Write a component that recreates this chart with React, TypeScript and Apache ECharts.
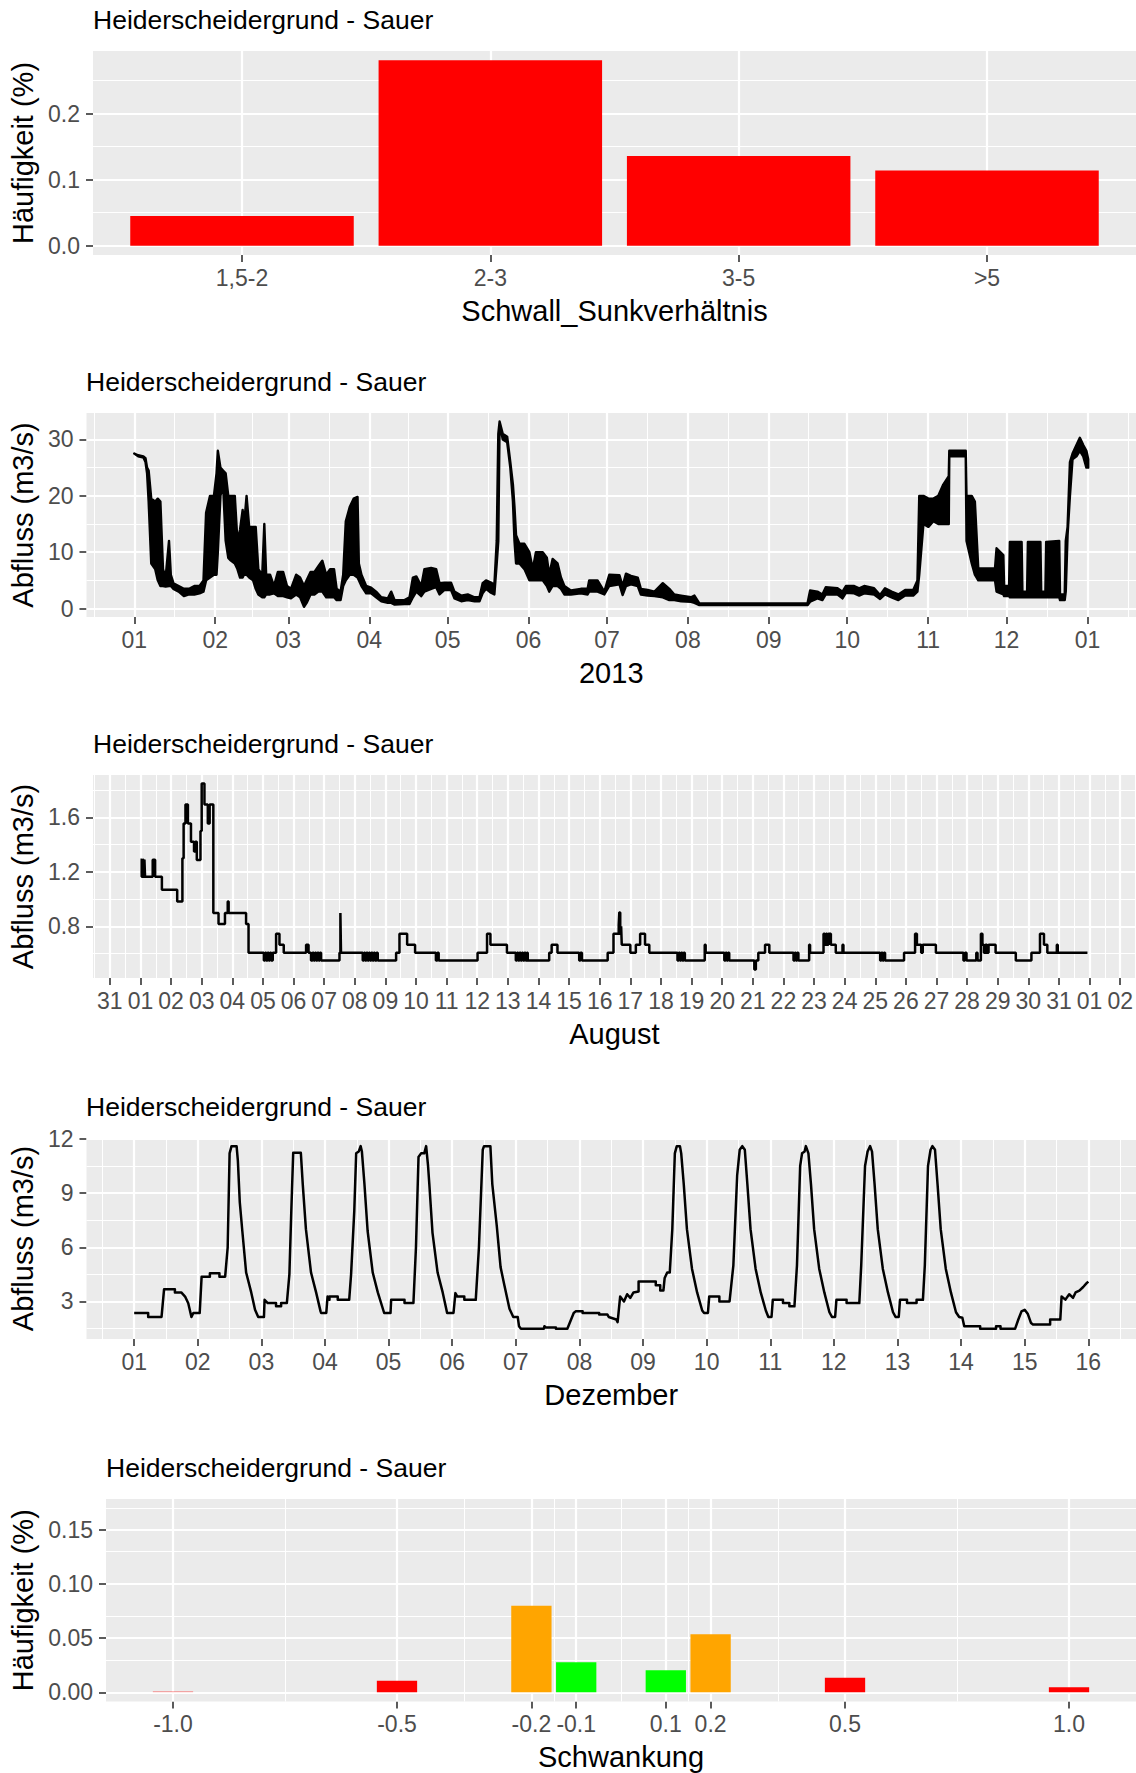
import React, { useEffect, useRef } from 'react';
import * as echarts from 'echarts';

const TITLE = 'Heiderscheidergrund - Sauer';
const FONT = '"Liberation Sans", Arial, Helvetica, sans-serif';

// ---------- Panel 1: Schwall/Sunk ratio ----------
const ratioCategories = ['1,5-2', '2-3', '3-5', '>5'];
const ratioFrequency = [0.045, 0.281, 0.136, 0.114];
const ratioYTicks = [0, 0.1, 0.2];

// ---------- Panel 2: discharge 2013 (day of year, low envelope, high envelope) ----------
const monthStartDays = [0, 31, 59, 90, 120, 151, 181, 212, 243, 273, 304, 334, 365];
const monthTickLabels = ['01', '02', '03', '04', '05', '06', '07', '08', '09', '10', '11', '12', '01'];
const yearYTicks = [0, 10, 20, 30];
const discharge2013: [number, number, number][] = [
  [0, 27.5, 27.5], [1.5, 27, 27.2], [3.5, 26.8, 27], [4.3, 26, 26.7], [4.9, 24, 25], [5.5, 19, 24.5],
  [6.5, 8, 19.5], [8, 7, 19], [9, 5, 19.5], [10, 4, 19], [11, 4, 7], [12, 3.9, 5.5], [13.3, 4, 12],
  [14, 4, 6], [15, 3.5, 4.5], [17, 3, 4], [19, 2.2, 3.5], [21, 2.5, 3.5], [23, 2.5, 4], [25, 2.7, 4],
  [26.5, 3, 5], [27.5, 5, 17], [29, 5.5, 20], [30.5, 6, 20], [31.5, 6, 24], [32, 10, 28], [33, 20, 25],
  [34, 22, 24.5], [35, 12, 24], [36, 9, 20], [37, 8.5, 20], [38.5, 8, 20], [39.5, 7, 12], [40.5, 5.5, 14],
  [41.5, 5.5, 17.5], [42, 6, 14.5], [43, 6, 20], [44, 5.5, 14.5], [45.5, 5, 14.5], [46.5, 3.5, 14.5],
  [47.5, 2.5, 7], [49, 2, 6], [49.8, 2, 15], [50.5, 2.5, 6], [52, 2.5, 6], [53.5, 2.7, 4], [55, 2.2, 6.5],
  [57, 2.2, 6.5], [58.5, 2, 4], [60, 1.8, 3.5], [62, 2.5, 6], [63.5, 2, 5.5], [65, 0.3, 4], [66, 1, 5],
  [67.5, 2.5, 6.5], [69, 2.5, 6.5], [70.5, 3, 7.5], [72, 3, 8.5], [73.5, 2, 6], [75, 2, 7], [76.5, 2, 7],
  [77.5, 1.5, 3.5], [79, 1.5, 3], [80, 4, 6], [81, 5, 15.5], [82.5, 6, 18], [84, 6, 19.5], [85.5, 5.5, 19.8],
  [86, 5, 8], [87, 4, 6], [88.8, 2.7, 4], [90.7, 2.7, 3.7], [92.6, 2, 3], [94.6, 1.3, 2], [97.1, 1, 1.8],
  [98.4, 1, 3], [99.7, 0.7, 1.5], [103.5, 0.8, 1.5], [105.4, 0.8, 2], [106.7, 2, 5.5], [108, 3, 5.7],
  [109.9, 2.2, 4], [111.1, 3, 7], [113.7, 3.5, 7.2], [115.6, 3.8, 7], [116.9, 2.5, 4.5], [118.8, 3.3, 4.6],
  [121.3, 3.3, 4.6], [122.6, 1.8, 3], [125.2, 1.3, 2.3], [127.7, 1.5, 2.5], [130.3, 1.3, 2], [132.2, 1.3, 2],
  [133.4, 2.7, 4.5], [134.7, 3.5, 5], [136.6, 2.8, 4.6], [137.9, 2.5, 4.2], [138.8, 8, 12], [139.4, 12, 31],
  [139.9, 33, 33.2], [141.1, 30, 31], [142.8, 29.5, 30.5], [144, 25, 26], [145, 19, 22], [145.6, 12, 18],
  [146.2, 8, 13], [147.5, 8, 11.5], [149.4, 7, 11.5], [151.3, 5, 10], [152.6, 5, 7], [153.8, 5, 10],
  [156.4, 5, 10], [158, 4, 9], [158.9, 3, 6], [160.2, 4, 8.8], [162.1, 4, 8], [163.4, 3.5, 5.5],
  [164.7, 2.5, 4], [167.2, 2.5, 3.2], [171, 2.7, 3.5], [173.6, 2.5, 3.5], [174.2, 3, 5], [177.4, 3, 5],
  [180, 2.5, 3], [181.9, 4, 6], [185.8, 4.3, 5.9], [187, 2.4, 4], [188.3, 4, 6.2], [190.2, 4.3, 5.8],
  [192.8, 4, 5.5], [194, 2.5, 3.5], [196.6, 2.3, 3.3], [199.2, 2.2, 3], [202.4, 2, 4.5], [204.9, 1.5, 3.5],
  [206.8, 1.5, 2.5], [209.4, 1.3, 2.3], [213.2, 1.2, 2], [214.5, 1, 2.3], [216.4, 0.6, 0.9], [257.8, 0.6, 0.9],
  [258.8, 1.2, 3.2], [261.6, 1.8, 3], [263.5, 1.5, 2.5], [264.8, 2.5, 3.8], [269.3, 2.5, 3.6], [271.2, 1.8, 3],
  [272.5, 2.8, 4], [275.7, 2.7, 4], [277.6, 2.3, 3.6], [279.5, 2.7, 4], [283.3, 2.5, 3.6], [285.6, 1.7, 2.4],
  [287.5, 2.5, 3.6], [290, 2, 3], [292.6, 1.5, 2.5], [295.2, 2.3, 3.3], [298.3, 2.3, 3.3], [299.9, 3, 5],
  [300.6, 6, 20], [302.2, 15, 20], [304.1, 14.5, 19.5], [306, 15.5, 19.5], [307.9, 15, 20], [309.8, 15, 22],
  [311.9, 15, 23.5], [312.1, 27, 28], [318.4, 27, 28], [318.7, 12, 20], [320.7, 8, 20], [321.9, 6, 19],
  [323.2, 5, 7.1], [329.6, 5, 7.1], [330.2, 3, 10.7], [332.8, 2.5, 9.5], [333.1, 2.2, 4], [335.0, 2.2, 4],
  [335.3, 2, 11.8], [339.8, 2, 11.8], [340.1, 2, 3], [341.9, 2, 3], [342.2, 2, 11.8], [347, 2, 11.8],
  [347.3, 2, 3], [348.9, 2, 3], [349.2, 2, 11.8], [354.2, 2, 12], [354.5, 1.5, 2.5], [356.3, 1.5, 2.5],
  [356.7, 3, 12], [357.4, 13, 14.5], [358.3, 20, 26], [359.3, 26.5, 27.5], [360.8, 27, 29], [362.1, 28, 30.3],
  [363.4, 27, 29], [364.6, 25, 28], [365.3, 25, 26.5],
];

// ---------- Panel 3: August (days since 1 Aug, value held until next point) ----------
const augustTickDays = [-1, 0, 1, 2, 3, 4, 5, 6, 7, 8, 9, 10, 11, 12, 13, 14, 15, 16, 17, 18, 19, 20, 21, 22, 23, 24, 25, 26, 27, 28, 29, 30, 31, 32];
const augustTickLabels = ['31', '01', '02', '03', '04', '05', '06', '07', '08', '09', '10', '11', '12', '13', '14', '15', '16', '17', '18', '19', '20', '21', '22', '23', '24', '25', '26', '27', '28', '29', '30', '31', '01', '02'];
const augustYTicks = [0.8, 1.2, 1.6];
const augustFlow: [number, number][] = [
  [0, 1.29], [0.04, 1.165], [0.07, 1.29], [0.1, 1.165], [0.13, 1.29], [0.15, 1.165], [0.4, 1.29], [0.48, 1.165],
  [0.7, 1.068], [1.2, 0.983], [1.37, 1.3], [1.41, 1.556], [1.47, 1.695], [1.55, 1.556], [1.65, 1.421], [1.75, 1.35],
  [1.79, 1.421], [1.84, 1.288], [1.96, 1.5], [2.0, 1.849], [2.09, 1.695], [2.2, 1.556], [2.26, 1.695], [2.38, 0.898],
  [2.55, 0.817], [2.76, 0.898], [2.85, 0.983], [2.88, 0.898], [3.45, 0.817], [3.53, 0.605],
  [4.03, 0.549], [4.07, 0.605], [4.11, 0.549], [4.15, 0.605], [4.19, 0.549], [4.23, 0.605], [4.27, 0.549], [4.32, 0.605],
  [4.43, 0.745], [4.54, 0.665], [4.68, 0.605], [5.41, 0.665], [5.49, 0.605], [5.57, 0.549], [5.62, 0.605], [5.66, 0.549],
  [5.7, 0.605], [5.74, 0.549], [5.78, 0.605], [5.82, 0.549], [5.86, 0.605], [5.9, 0.549], [6.5, 0.605], [6.53, 0.898],
  [6.55, 0.605], [7.26, 0.549], [7.3, 0.605], [7.34, 0.549], [7.38, 0.605], [7.42, 0.549], [7.46, 0.605], [7.5, 0.549],
  [7.54, 0.605], [7.58, 0.549], [7.62, 0.605], [7.66, 0.549], [7.71, 0.605], [7.75, 0.549], [8.35, 0.605], [8.46, 0.745],
  [8.71, 0.665], [8.97, 0.605], [9.65, 0.549], [9.7, 0.605], [9.74, 0.549], [11.01, 0.605], [11.32, 0.745], [11.43, 0.665],
  [11.97, 0.605], [12.26, 0.549], [12.3, 0.605], [12.34, 0.549], [12.38, 0.605], [12.42, 0.549], [12.46, 0.605],
  [12.5, 0.549], [12.54, 0.605], [12.58, 0.549], [12.62, 0.605], [12.65, 0.549], [13.35, 0.605], [13.43, 0.665],
  [13.62, 0.605], [14.33, 0.549], [14.37, 0.605], [14.42, 0.549], [15.26, 0.605], [15.45, 0.745], [15.62, 0.81],
  [15.64, 0.902], [15.67, 0.745], [15.7, 0.8], [15.72, 0.665], [16.0, 0.605], [16.18, 0.665], [16.32, 0.745],
  [16.48, 0.665], [16.62, 0.605], [17.54, 0.549], [17.58, 0.605], [17.62, 0.549], [17.66, 0.605], [17.7, 0.549],
  [17.74, 0.605], [17.78, 0.549], [18.43, 0.665], [18.46, 0.605], [19.07, 0.549], [19.11, 0.605], [19.15, 0.549],
  [19.19, 0.605], [19.23, 0.549], [20.05, 0.483], [20.1, 0.549], [20.18, 0.605], [20.4, 0.665], [20.54, 0.605],
  [21.33, 0.549], [21.37, 0.605], [21.41, 0.549], [21.45, 0.605], [21.49, 0.549], [21.84, 0.665], [21.87, 0.605],
  [22.31, 0.745], [22.35, 0.665], [22.39, 0.745], [22.43, 0.665], [22.47, 0.745], [22.55, 0.665], [22.71, 0.605],
  [22.93, 0.665], [22.96, 0.605], [24.16, 0.549], [24.2, 0.605], [24.24, 0.549], [24.28, 0.605], [24.32, 0.549],
  [24.94, 0.605], [25.3, 0.745], [25.36, 0.665], [25.5, 0.605], [25.55, 0.665], [25.98, 0.605], [26.88, 0.549],
  [26.93, 0.605], [26.98, 0.549], [27.3, 0.605], [27.34, 0.549], [27.45, 0.745], [27.5, 0.665], [27.55, 0.605],
  [27.6, 0.665], [27.65, 0.605], [27.7, 0.665], [27.93, 0.605], [28.59, 0.549], [29.1, 0.605], [29.38, 0.745],
  [29.51, 0.665], [29.62, 0.605], [29.93, 0.665], [29.96, 0.605], [30.93, 0.605],
];

// ---------- Panel 4: December 1-16 (days since 1 Dec) ----------
const decemberTickDays = [0, 1, 2, 3, 4, 5, 6, 7, 8, 9, 10, 11, 12, 13, 14, 15];
const decemberTickLabels = ['01', '02', '03', '04', '05', '06', '07', '08', '09', '10', '11', '12', '13', '14', '15', '16'];
const decemberYTicks = [3, 6, 9, 12];
const decemberFlow: [number, number][] = [
  [0, 2.36], [0.22, 2.36], [0.22, 2.14], [0.43, 2.14], [0.47, 3.68], [0.64, 3.68], [0.64, 3.5], [0.74, 3.5],
  [0.8, 3.27], [0.85, 2.9], [0.9, 2.14], [0.93, 2.36], [1.03, 2.36], [1.06, 4.37], [1.19, 4.37], [1.19, 4.56],
  [1.34, 4.56], [1.34, 4.37], [1.43, 4.37], [1.47, 6.0], [1.5, 11.2], [1.53, 11.6], [1.61, 11.6], [1.63, 10.8],
  [1.66, 8.5], [1.7, 6.9], [1.76, 4.6], [1.84, 3.5], [1.9, 2.54], [1.95, 2.14], [2.04, 2.14], [2.05, 3.09],
  [2.1, 2.91], [2.23, 2.91], [2.23, 2.73], [2.31, 2.73], [2.31, 2.91], [2.4, 2.91], [2.44, 4.5], [2.47, 8],
  [2.5, 11.23], [2.62, 11.23], [2.65, 9.5], [2.7, 7], [2.78, 4.6], [2.86, 3.5], [2.93, 2.45], [2.94, 2.36],
  [3.02, 2.36], [3.04, 3.27], [3.07, 3.09], [3.07, 3.27], [3.2, 3.27], [3.2, 3.09], [3.38, 3.09], [3.41, 4.5],
  [3.46, 8], [3.49, 11.2], [3.53, 11.3], [3.56, 11.6], [3.58, 11.3], [3.62, 9.5], [3.67, 6.9], [3.75, 4.6],
  [3.83, 3.5], [3.93, 2.36], [4.03, 2.36], [4.04, 3.09], [4.25, 3.09], [4.25, 2.91], [4.39, 2.91], [4.43, 6],
  [4.47, 11.0], [4.51, 11.2], [4.56, 11.2], [4.59, 11.6], [4.62, 10.5], [4.64, 9.5], [4.69, 6.8], [4.77, 4.6],
  [4.85, 3.5], [4.92, 2.36], [5.02, 2.36], [5.05, 3.46], [5.08, 3.27], [5.19, 3.27], [5.19, 3.09], [5.37, 3.09],
  [5.42, 6], [5.48, 11.4], [5.5, 11.6], [5.6, 11.6], [5.63, 9.5], [5.7, 7.2], [5.76, 4.9], [5.82, 3.9],
  [5.9, 2.6], [5.96, 2.14], [6.03, 2.14], [6.05, 1.63], [6.08, 1.49], [6.44, 1.49], [6.45, 1.63], [6.47, 1.55],
  [6.63, 1.55], [6.63, 1.49], [6.81, 1.49], [6.91, 2.36], [6.94, 2.45], [7.05, 2.45], [7.05, 2.36], [7.31, 2.36],
  [7.31, 2.27], [7.44, 2.27], [7.46, 2.14], [7.58, 2.0], [7.6, 1.85], [7.64, 3.27], [7.7, 3.0], [7.75, 3.4],
  [7.8, 3.2], [7.85, 3.5], [7.93, 3.55], [7.93, 4.1], [8.2, 4.1], [8.2, 3.9], [8.27, 3.9], [8.27, 3.6],
  [8.32, 3.6], [8.34, 4.3], [8.38, 4.6], [8.42, 4.6], [8.46, 7], [8.5, 11.2], [8.53, 11.6], [8.58, 11.6],
  [8.6, 11.2], [8.64, 9.5], [8.69, 7], [8.77, 4.8], [8.85, 3.5], [8.93, 2.5], [8.96, 2.36], [9.02, 2.36],
  [9.04, 3.27], [9.2, 3.27], [9.2, 3.0], [9.36, 3.0], [9.42, 5], [9.48, 10], [9.52, 11.4], [9.56, 11.6],
  [9.6, 11.4], [9.64, 9.5], [9.69, 7], [9.77, 4.8], [9.85, 3.5], [9.93, 2.5], [9.97, 2.14], [10.02, 2.14],
  [10.04, 3.09], [10.2, 3.09], [10.2, 2.91], [10.3, 2.91], [10.3, 2.73], [10.38, 2.73], [10.42, 5], [10.47, 10.5],
  [10.5, 11.2], [10.54, 11.3], [10.56, 11.6], [10.6, 11.2], [10.64, 9.5], [10.69, 7], [10.77, 4.8], [10.85, 3.5],
  [10.93, 2.4], [10.97, 2.14], [11.02, 2.14], [11.04, 3.09], [11.2, 3.09], [11.2, 2.91], [11.4, 2.91], [11.43, 5],
  [11.49, 10.5], [11.53, 11.3], [11.57, 11.6], [11.6, 11.3], [11.64, 9.5], [11.69, 7], [11.77, 4.8], [11.85, 3.5],
  [11.93, 2.4], [11.97, 2.14], [12.02, 2.14], [12.04, 3.09], [12.15, 3.09], [12.15, 2.91], [12.3, 2.91], [12.3, 3.09],
  [12.4, 3.09], [12.43, 5], [12.48, 10.5], [12.52, 11.4], [12.55, 11.6], [12.59, 11.4], [12.63, 9.5], [12.68, 7],
  [12.76, 4.8], [12.84, 3.5], [12.92, 2.4], [12.97, 2.14], [13.02, 2.1], [13.05, 1.63], [13.3, 1.63], [13.3, 1.49],
  [13.55, 1.49], [13.55, 1.63], [13.62, 1.63], [13.62, 1.49], [13.85, 1.49], [13.9, 2.0], [13.95, 2.45], [14.0, 2.54],
  [14.05, 2.3], [14.1, 1.8], [14.13, 1.72], [14.4, 1.72], [14.4, 2.0], [14.56, 2.0], [14.58, 3.27], [14.64, 3.1],
  [14.7, 3.4], [14.76, 3.2], [14.8, 3.5], [14.86, 3.6], [14.92, 3.8], [14.97, 4.0], [15.0, 4.1],
];

// ---------- Panel 5: Schwankung ----------
const fluctuationClasses = [-1.0, -0.5, -0.2, -0.1, 0.1, 0.2, 0.5, 1.0];
const fluctuationTickLabels = ['-1.0', '-0.5', '-0.2', '-0.1', '0.1', '0.2', '0.5', '1.0'];
const fluctuationFrequency = [0.0012, 0.0107, 0.08, 0.0277, 0.0203, 0.0536, 0.0135, 0.0046];
const fluctuationColors = ['rgba(255,0,0,0.3)', '#FF0000', '#FFA500', '#00FF00', '#00FF00', '#FFA500', '#FF0000', '#FF0000'];
const fluctuationYTicks = [0, 0.05, 0.1, 0.15];

// ---------- layout ----------
const panels = [
  { left: 93, top: 51, width: 1043, height: 204, xMin: 0.4, xMax: 4.6, yMin: -0.01405, yMax: 0.29505 },
  { left: 86, top: 413, width: 1050, height: 204, xMin: -18.3, xMax: 383.6, yMin: -1.5, yMax: 34.7 },
  { left: 93, top: 775, width: 1043, height: 203, xMin: -1.55, xMax: 32.51, yMin: 0.42, yMax: 1.912 },
  { left: 86, top: 1138, width: 1050, height: 201, xMin: -0.75, xMax: 15.75, yMin: 0.92, yMax: 12.05 },
  { left: 106, top: 1499, width: 1030, height: 202.5, xMin: -1.1495, xMax: 1.1495, yMin: -0.0085, yMax: 0.1785 },
];

const mids = (a: number[]) => a.slice(1).map((v, i) => (v + a[i]) / 2);
const near = (arr: number[], v: number) => arr.findIndex((a) => Math.abs(a - v) < 1e-9);

function gridLineSeries(i: number, xMajor: number[], xMinor: number[], yMajor: number[], yMinor: number[]) {
  const p = panels[i];
  const inX = (v: number) => v >= p.xMin && v <= p.xMax;
  const inY = (v: number) => v >= p.yMin && v <= p.yMax;
  const major = { color: '#FFFFFF', width: 2.2, type: 'solid', opacity: 1 };
  const minor = { color: '#FFFFFF', width: 1.1, type: 'solid', opacity: 1 };
  const data = [
    ...xMinor.filter(inX).map((v) => ({ xAxis: v, lineStyle: minor })),
    ...yMinor.filter(inY).map((v) => ({ yAxis: v, lineStyle: minor })),
    ...xMajor.filter(inX).map((v) => ({ xAxis: v, lineStyle: major })),
    ...yMajor.filter(inY).map((v) => ({ yAxis: v, lineStyle: major })),
  ];
  return {
    type: 'line',
    xAxisIndex: i,
    yAxisIndex: i,
    data: [],
    silent: true,
    z: 1,
    markLine: {
      silent: true,
      symbol: ['none', 'none'],
      label: { show: false },
      emphasis: { disabled: true },
      animation: false,
      z: 1,
      data,
    },
  };
}

function xAxisFor(i: number, ticks: number[], fmt: (v: number) => string, name: string) {
  const p = panels[i];
  return {
    type: 'value',
    gridIndex: i,
    min: p.xMin,
    max: p.xMax,
    axisLine: { show: false, onZero: false },
    axisTick: { show: true, length: 7, lineStyle: { color: '#333333', width: 1.6 }, customValues: ticks },
    axisLabel: { show: true, customValues: ticks, formatter: fmt, color: '#4D4D4D', fontSize: 23, fontFamily: FONT, margin: 11 },
    splitLine: { show: false },
    name,
    nameLocation: 'middle',
    nameGap: 41,
    nameTextStyle: { fontSize: 29, color: '#000000', fontFamily: FONT },
  };
}

function yAxisFor(i: number, ticks: number[], fmt: (v: number) => string, name: string) {
  const p = panels[i];
  return {
    type: 'value',
    gridIndex: i,
    min: p.yMin,
    max: p.yMax,
    axisLine: { show: false, onZero: false },
    axisTick: { show: true, length: 7, lineStyle: { color: '#333333', width: 1.6 }, customValues: ticks },
    axisLabel: { show: true, customValues: ticks, formatter: fmt, color: '#4D4D4D', fontSize: 23, fontFamily: FONT, margin: 13 },
    splitLine: { show: false },
    name,
    nameLocation: 'middle',
    nameRotate: 90,
    nameGap: p.left - 39.5,
    nameTextStyle: { fontSize: 29, color: '#000000', fontFamily: FONT },
  };
}

export default function App() {
  const ref = useRef<HTMLDivElement>(null);

  useEffect(() => {
    if (!ref.current) return;
    document.body.style.margin = '0';
    const chart = echarts.init(ref.current, undefined, { renderer: 'svg' });

    const ratioX = ratioCategories.map((_, k) => k + 1);
    const monthMinor = [-15.5, ...mids(monthStartDays), 380.5];
    const augMinor = [-1.5, ...mids(augustTickDays), 32.5];
    const decMinor = [-0.5, ...mids(decemberTickDays), 15.5];

    const option: any = {
      animation: false,
      textStyle: { fontFamily: FONT },
      grid: panels.map((p) => ({
        left: p.left,
        top: p.top,
        width: p.width,
        height: p.height,
        show: true,
        backgroundColor: '#EBEBEB',
        borderWidth: 0,
        containLabel: false,
      })),
      xAxis: [
        xAxisFor(0, ratioX, (v) => ratioCategories[near(ratioX, v)] ?? '', 'Schwall_Sunkverhältnis'),
        xAxisFor(1, monthStartDays, (v) => monthTickLabels[near(monthStartDays, v)] ?? '', '2013'),
        xAxisFor(2, augustTickDays, (v) => augustTickLabels[near(augustTickDays, v)] ?? '', 'August'),
        xAxisFor(3, decemberTickDays, (v) => decemberTickLabels[near(decemberTickDays, v)] ?? '', 'Dezember'),
        xAxisFor(4, fluctuationClasses, (v) => fluctuationTickLabels[near(fluctuationClasses, v)] ?? '', 'Schwankung'),
      ],
      yAxis: [
        yAxisFor(0, ratioYTicks, (v) => v.toFixed(1), 'Häufigkeit (%)'),
        yAxisFor(1, yearYTicks, (v) => String(v), 'Abfluss (m3/s)'),
        yAxisFor(2, augustYTicks, (v) => v.toFixed(1), 'Abfluss (m3/s)'),
        yAxisFor(3, decemberYTicks, (v) => String(v), 'Abfluss (m3/s)'),
        yAxisFor(4, fluctuationYTicks, (v) => v.toFixed(2), 'Häufigkeit (%)'),
      ],
      graphic: panels.map((p) => ({
        type: 'text',
        x: p.left,
        y: p.top - 31,
        silent: true,
        style: {
          text: TITLE,
          fontSize: 26.5,
          fontFamily: FONT,
          fill: '#000000',
          textAlign: 'left',
          textVerticalAlign: 'middle',
          align: 'left',
          verticalAlign: 'middle',
        },
      })),
      series: [
        gridLineSeries(0, ratioX, [], ratioYTicks, [0.05, 0.15, 0.25]),
        gridLineSeries(1, monthStartDays, monthMinor, yearYTicks, [5, 15, 25]),
        gridLineSeries(2, augustTickDays, augMinor, augustYTicks, [0.6, 1.0, 1.4, 1.8]),
        gridLineSeries(3, decemberTickDays, decMinor, decemberYTicks, [1.5, 4.5, 7.5, 10.5]),
        gridLineSeries(4, fluctuationClasses, [-0.75, -0.35, -0.15, 0, 0.15, 0.35, 0.75], fluctuationYTicks, [0.025, 0.075, 0.125, 0.175]),
        {
          type: 'bar',
          xAxisIndex: 0,
          yAxisIndex: 0,
          z: 3,
          barWidth: 223.5,
          itemStyle: { color: '#FF0000' },
          data: ratioFrequency.map((v, k) => [ratioX[k], v]),
          silent: true,
        },
        {
          type: 'custom',
          xAxisIndex: 1,
          yAxisIndex: 1,
          coordinateSystem: 'cartesian2d',
          z: 3,
          silent: true,
          clip: true,
          data: [[discharge2013[0][0], discharge2013[0][1]]],
          renderItem: (params: any, api: any) => {
            if (params.dataIndex !== 0) return null;
            const upper = discharge2013.map((d) => api.coord([d[0], d[2]]));
            const lower = discharge2013.slice().reverse().map((d) => api.coord([d[0], d[1]]));
            return {
              type: 'polygon',
              shape: { points: upper.concat(lower) },
              style: { fill: '#000000', stroke: '#000000', lineWidth: 2.4, lineJoin: 'round' },
            };
          },
        },
        {
          type: 'line',
          xAxisIndex: 2,
          yAxisIndex: 2,
          z: 3,
          step: 'end',
          showSymbol: false,
          symbol: 'none',
          silent: true,
          lineStyle: { color: '#000000', width: 2.5 },
          data: augustFlow,
        },
        {
          type: 'line',
          xAxisIndex: 3,
          yAxisIndex: 3,
          z: 3,
          showSymbol: false,
          symbol: 'none',
          silent: true,
          lineStyle: { color: '#000000', width: 2.5, join: 'round' },
          data: decemberFlow,
        },
        {
          type: 'bar',
          xAxisIndex: 4,
          yAxisIndex: 4,
          z: 3,
          barWidth: 40.3,
          silent: true,
          data: fluctuationClasses.map((c, k) => ({
            value: [c, fluctuationFrequency[k]],
            itemStyle: { color: fluctuationColors[k] },
          })),
        },
      ],
    };

    chart.setOption(option);
    return () => chart.dispose();
  }, []);

  return (
    <div
      ref={ref}
      style={{ position: 'absolute', left: 0, top: 0, width: 1136, height: 1773, background: '#FFFFFF' }}
    />
  );
}
